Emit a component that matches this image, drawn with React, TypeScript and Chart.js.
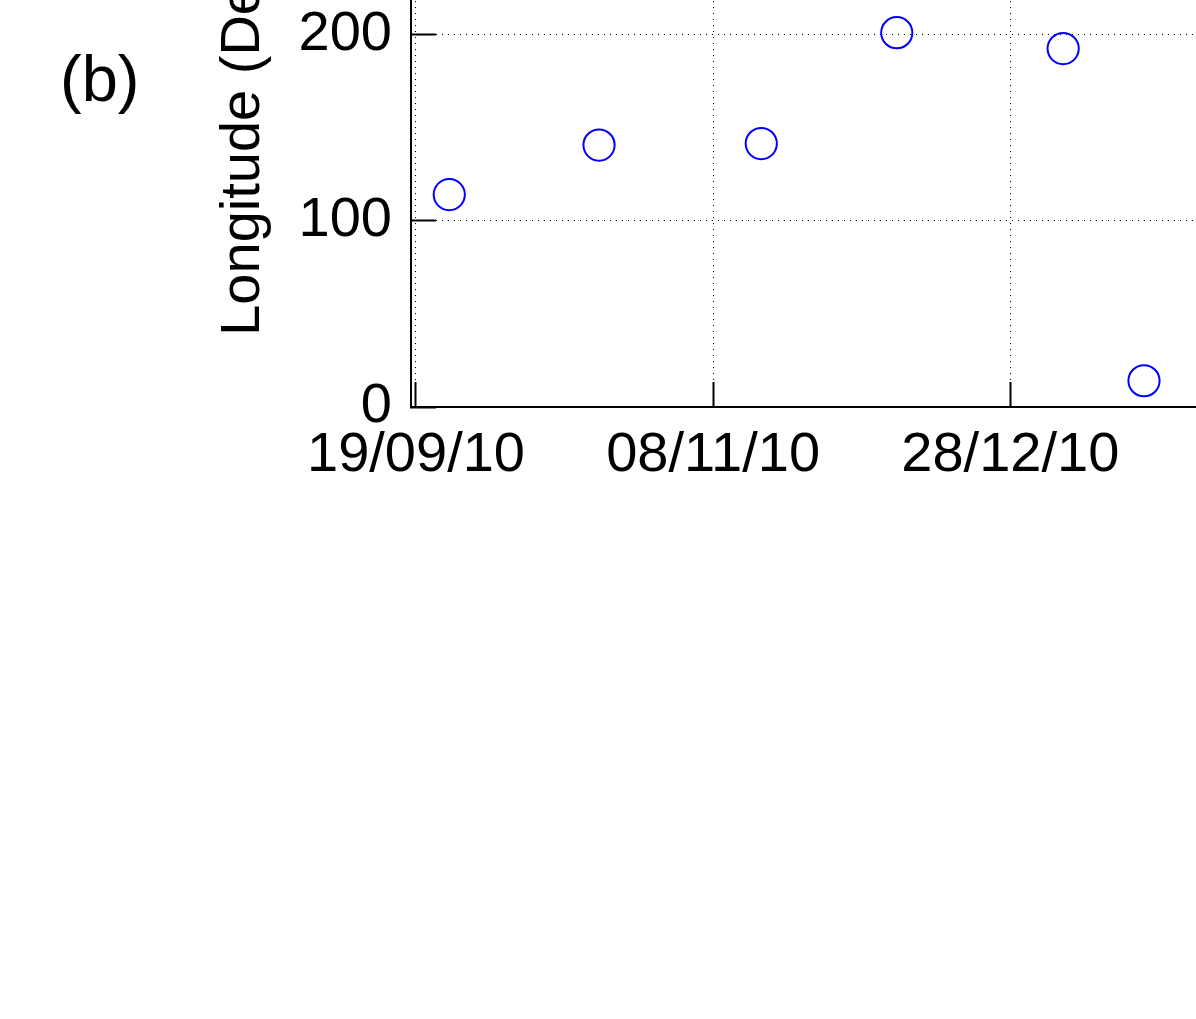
import React, { useEffect, useRef } from "react";
import { Chart, registerables } from "chart.js";

Chart.register(...registerables);

// Data: days since 19/09/10 and longitude in degrees
const obsDays = [5.6, 30.8, 58.1, 80.9, 108.9, 122.5];
const longitudes = [114.0, 140.6, 141.4, 200.9, 192.4, 14.1];

const xTickDays = [0, 50, 100, 150];
const xTickLabels = ["19/09/10", "08/11/10", "28/12/10", "16/02/11"];
const yTickValues = [0, 100, 200];

const yTitle = "Longitude (Deg)";
const panelLabel = "(b)";

const CANVAS_W = 1500;
const CANVAS_H = 1319;
const OFFSET_TOP = 300;
const FONT = "'Liberation Sans', Arial, Helvetica, sans-serif";

export default function App() {
  const ref = useRef<HTMLCanvasElement | null>(null);

  useEffect(() => {
    if (!ref.current) return;
    const chart = new Chart(ref.current, {
      type: "scatter",
      data: {
        datasets: [
          {
            data: obsDays.map((d, i) => ({ x: d, y: longitudes[i] })),
            showLine: false,
            pointStyle: "circle",
            pointRadius: 15.6,
            pointHoverRadius: 15.6,
            pointBorderWidth: 2,
            borderColor: "#0000ff",
            backgroundColor: "rgba(0,0,0,0)",
          },
        ],
      },
      options: {
        responsive: false,
        animation: false,
        devicePixelRatio: 1,
        layout: { padding: { left: 0, right: 44, top: 163, bottom: 0 } },
        plugins: { legend: { display: false }, tooltip: { enabled: false } },
        scales: {
          x: {
            type: "linear",
            position: "bottom",
            min: -0.84,
            max: 175,
            afterBuildTicks: (scale: any) => {
              scale.ticks = xTickDays.map((v) => ({ value: v }));
            },
            afterFit: (scale: any) => {
              scale.height = CANVAS_H - (OFFSET_TOP + 407);
            },
            ticks: {
              autoSkip: false,
              maxRotation: 0,
              minRotation: 0,
              padding: 40,
              color: "#000",
              font: { family: FONT, size: 56 },
              callback: (value: any) => {
                const i = xTickDays.indexOf(Number(value));
                return i >= 0 ? xTickLabels[i] : "";
              },
            },
            grid: {
              color: "#000",
              lineWidth: 1,
              tickLength: -25,
              tickColor: "#000",
              tickWidth: 2,
              tickBorderDash: [],
            } as any,
            border: { display: true, color: "#000", width: 2, dash: [1, 5] },
          },
          y: {
            type: "linear",
            position: "left",
            min: 0,
            max: 292,
            afterBuildTicks: (scale: any) => {
              scale.ticks = yTickValues.map((v) => ({ value: v }));
            },
            afterFit: (scale: any) => {
              scale.width = 411;
            },
            ticks: {
              padding: 44,
              color: "#000",
              font: { family: FONT, size: 56 },
              callback: (value: any) => String(value),
            },
            grid: {
              color: "#000",
              lineWidth: 1,
              tickLength: -25,
              tickColor: "#000",
              tickWidth: 2,
              tickBorderDash: [],
            } as any,
            border: { display: true, color: "#000", width: 2, dash: [1, 5] },
            title: {
              display: true,
              text: yTitle,
              color: "#000",
              font: { family: FONT, size: 56 },
              padding: { top: 210, bottom: 0 },
            },
          },
        },
      },
    });
    return () => chart.destroy();
  }, []);

  return (
    <div
      style={{
        position: "fixed",
        left: 0,
        top: 0,
        width: 1196,
        height: 1019,
        overflow: "hidden",
        background: "#fff",
      }}
    >
      <canvas
        ref={ref}
        width={CANVAS_W}
        height={CANVAS_H}
        style={{
          position: "absolute",
          left: 0,
          top: -OFFSET_TOP,
          width: CANVAS_W,
          height: CANVAS_H,
        }}
      />
      <div
        style={{
          position: "absolute",
          left: 60,
          top: 46,
          fontFamily: FONT,
          fontSize: 65,
          lineHeight: "65px",
          color: "#000",
          whiteSpace: "nowrap",
        }}
      >
        {panelLabel}
      </div>
    </div>
  );
}
